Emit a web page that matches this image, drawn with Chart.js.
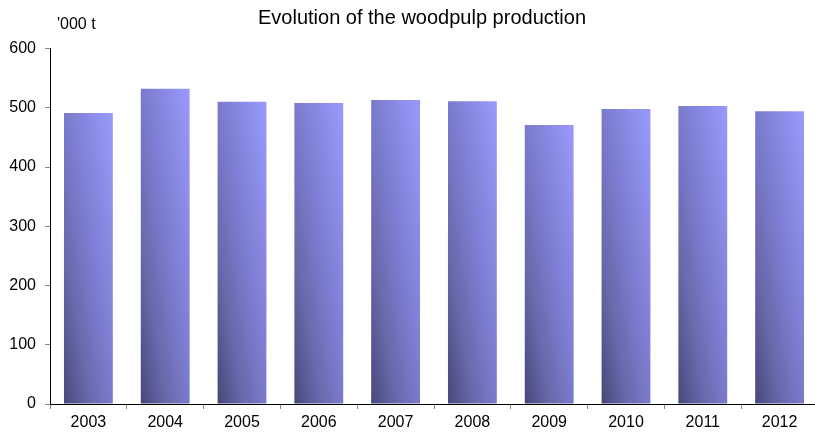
<!DOCTYPE html>
<html>
<head>
<meta charset="utf-8">
<script src="https://cdn.jsdelivr.net/npm/chart.js@4/dist/chart.umd.min.js"></script>
<style>
  html, body { margin: 0; padding: 0; background: #fff; overflow: hidden; }
  #wrap { width: 818px; height: 432px; }
</style>
</head>
<body>
<div id="wrap"><canvas id="c" width="818" height="432"></canvas></div>
<script>
const categories = ['2003','2004','2005','2006','2007','2008','2009','2010','2011','2012'];
const production = [491, 532, 510, 508, 513, 511, 471, 498, 503, 494];
const yTicks = [0, 100, 200, 300, 400, 500, 600];
const titleText = 'Evolution of the woodpulp production';
const unitText = "'000 t";

const FONT = "'Liberation Sans', Arial, sans-serif";
const BAR_PCT = 0.636;

function barGradient(ctx) {
  const chart = ctx.chart;
  const xs = chart.scales.x, ys = chart.scales.y;
  if (ctx.type !== 'data' || !xs || !ys || !chart.chartArea) return '#7a7acc';
  const i = ctx.dataIndex, v = ctx.raw;
  const w = (xs.width / categories.length) * BAR_PCT;
  const cx = xs.getPixelForValue(i);
  const x0 = cx - w / 2;
  const yb = ys.getPixelForValue(0), yt = ys.getPixelForValue(v);
  const h = Math.max(1, yb - yt);
  const ax = 0.5 / w, ay = -0.5 / h, n = ax * ax + ay * ay;
  const g = chart.ctx.createLinearGradient(x0, yb, x0 + ax / n, yb + ay / n);
  g.addColorStop(0, '#47477a');
  g.addColorStop(0.25, '#6767a9');
  g.addColorStop(0.5, '#7a7acc');
  g.addColorStop(1, '#9a9aff');
  return g;
}

const textPlugin = {
  id: 'texts',
  afterDraw(chart) {
    const c = chart.ctx;
    c.save();
    c.fillStyle = '#000';
    c.textBaseline = 'alphabetic';
    c.font = '20px ' + FONT;
    c.textAlign = 'center';
    c.fillText(titleText, 422, 24);
    c.font = '16px ' + FONT;
    c.textAlign = 'left';
    c.fillText(unitText, 57, 29);
    c.restore();
  }
};

new Chart(document.getElementById('c'), {
  type: 'bar',
  data: {
    labels: categories,
    datasets: [{
      data: production,
      backgroundColor: barGradient,
      borderWidth: 0,
      barPercentage: BAR_PCT,
      categoryPercentage: 1
    }]
  },
  options: {
    responsive: false,
    animation: false,
    devicePixelRatio: 1,
    layout: { padding: { top: 48.5, left: 0, right: 0, bottom: 0 } },
    plugins: { legend: { display: false }, title: { display: false }, tooltip: { enabled: false } },
    scales: {
      x: {
        offset: true,
        grid: { display: true, drawOnChartArea: false, drawTicks: true, tickLength: 5, color: '#888', offset: true },
        border: { display: true, color: '#000', width: 1 },
        ticks: { color: '#000', font: { family: FONT, size: 16 }, padding: 4, maxRotation: 0 },
        afterFit(s) { s.height = 28; }
      },
      y: {
        min: 0, max: 600,
        afterBuildTicks(s) { s.ticks = yTicks.map(v => ({ value: v })); },
        grid: { display: true, drawOnChartArea: false, drawTicks: true, tickLength: 5, color: '#888' },
        border: { display: true, color: '#000', width: 1 },
        ticks: { color: '#000', font: { family: FONT, size: 16 }, padding: 9 },
        afterFit(s) { s.width = 50; }
      }
    }
  },
  plugins: [textPlugin]
});
</script>
</body>
</html>
